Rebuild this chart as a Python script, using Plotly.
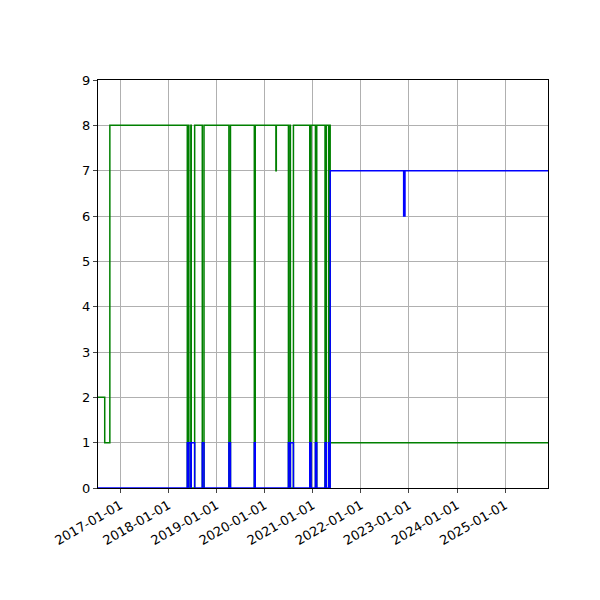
import plotly.graph_objects as go

# change points (step after)
dates = [
    "2016-07-15", "2016-09-04", "2016-10-13",
    "2018-05-24", "2018-06-02", "2018-06-05", "2018-06-20", "2018-06-23", "2018-07-19",
    "2018-09-15", "2018-09-28",
    "2019-04-05", "2019-04-17",
    "2019-10-15", "2019-10-22",
    "2020-03-27", "2020-03-30",
    "2020-06-30", "2020-07-12", "2020-07-15", "2020-08-07",
    "2020-12-09", "2020-12-19",
    "2021-01-21", "2021-01-31",
    "2021-04-04", "2021-04-14",
    "2021-05-02", "2021-05-12", "2021-05-13",
    "2022-11-22", "2022-12-02",
    "2025-11-22",
]
blue = [
    0, 0, 0,
    1, 0, 1, 0, 1, 0,
    1, 0,
    1, 0,
    1, 0,
    0, 0,
    1, 0, 1, 0,
    1, 0,
    1, 0,
    1, 0,
    1, 0, 7,
    6, 7,
    7,
]
green = [
    2, 1, 8,
    0, 8, 0, 8, 0, 8,
    0, 8,
    0, 8,
    0, 8,
    7, 8,
    0, 8, 0, 8,
    0, 8,
    0, 8,
    0, 8,
    0, 8, 1,
    1, 1,
    1,
]
tickvals = ["2017-01-01", "2018-01-01", "2019-01-01", "2020-01-01", "2021-01-01",
            "2022-01-01", "2023-01-01", "2024-01-01", "2025-01-01"]

fig = go.Figure()
fig.add_trace(go.Scatter(x=dates, y=green, mode="lines", line=dict(color="green", width=1.5, shape="hv")))
fig.add_trace(go.Scatter(x=dates, y=blue, mode="lines", line=dict(color="blue", width=1.5, shape="hv")))

fig.update_layout(
    width=600, height=600, showlegend=False,
    plot_bgcolor="white", paper_bgcolor="white",
    margin=dict(l=90, r=60, t=72, b=120),
    font=dict(family="DejaVu Sans", size=13, color="black"),
)
fig.update_xaxes(
    type="date", range=["2016-07-15", "2025-11-22"], automargin=False,
    tickvals=tickvals, ticktext=tickvals, tickangle=-30,
    showgrid=True, gridcolor="#b0b0b0", showline=True, linecolor="black", mirror=True,
    ticks="outside", ticklen=4, zeroline=False,
)
fig.update_yaxes(
    range=[0, 9], dtick=1, automargin=False,
    showgrid=True, gridcolor="#b0b0b0", showline=True, linecolor="black", mirror=True,
    ticks="outside", ticklen=4, zeroline=False,
)

fig.write_html("out.html")
